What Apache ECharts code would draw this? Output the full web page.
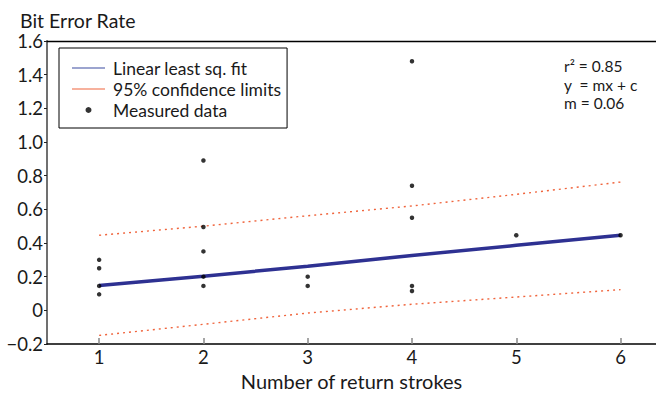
<!DOCTYPE html>
<html>
<head>
<meta charset="utf-8">
<script src="https://cdn.jsdelivr.net/npm/echarts@6/dist/echarts.min.js"></script>
<style>
html,body{margin:0;padding:0;background:#fff;}
#chart{width:656px;height:397px;}
</style>
</head>
<body>
<div id="chart"></div>
<script>
// ---- data ----
var xTicks = [1, 2, 3, 4, 5, 6];

var fitX = [1, 2, 3, 4, 5, 6];
var fitY = [0.147, 0.203, 0.262, 0.326, 0.386, 0.446];

var upperX = [1, 2, 3, 4, 5, 6];
var upperY = [0.446, 0.500, 0.562, 0.620, 0.689, 0.762];

var lowerX = [1, 2, 3, 4, 5, 6];
var lowerY = [-0.149, -0.083, -0.016, 0.036, 0.079, 0.123];

var measuredX = [1, 1, 1, 1, 2, 2, 2, 2, 2, 3, 3, 4, 4, 4, 4, 4, 5, 6];
var measuredY = [0.30, 0.25, 0.145, 0.095, 0.89, 0.495, 0.35, 0.20, 0.145, 0.20, 0.145, 1.48, 0.74, 0.55, 0.145, 0.115, 0.446, 0.446];

var statLines = ['r\u00b2 = 0.85', 'y  = mx + c', 'm = 0.06'];

function zip(xs, ys) { return xs.map(function (x, i) { return [x, ys[i]]; }); }

var FONT = 'Lato';
var TXT = '#1a1a1a';
var LINE_ICON = 'path://M0,0L66,0L66,2L0,2Z';

var chart = echarts.init(document.getElementById('chart'), null, { renderer: 'svg' });

chart.setOption({
  backgroundColor: '#ffffff',
  animation: false,
  textStyle: { fontFamily: FONT, color: TXT },
  title: {
    text: 'Bit Error Rate',
    left: 15, top: 5,
    textStyle: { fontFamily: FONT, fontSize: 19.5, fontWeight: 'normal', color: TXT }
  },
  grid: { left: 47, right: 0, top: 41, bottom: 53, outerBoundsMode: 'none' },
  legend: {
    orient: 'vertical',
    left: 59, top: 48,
    padding: [11, 6, 9, 13],
    borderColor: '#000', borderWidth: 1,
    itemWidth: 33, itemHeight: 6, itemGap: 3,
    symbolKeepAspect: true,
    textStyle: { fontFamily: FONT, fontSize: 17.5, color: TXT, padding: [0, 0, 0, 3] },
    data: [
      { name: 'Linear least sq. fit', icon: LINE_ICON, itemStyle: { color: '#3b4aa0', borderWidth: 0 } },
      { name: '95% confidence limits', icon: LINE_ICON, itemStyle: { color: '#f0643c', borderWidth: 0 } },
      { name: 'Measured data', icon: 'circle', itemStyle: { color: '#000' } }
    ]
  },
  xAxis: [{
    type: 'value', min: 0.5, max: 6.34,
    position: 'bottom',
    name: 'Number of return strokes',
    nameLocation: 'middle', nameGap: 27,
    nameTextStyle: { fontFamily: FONT, fontSize: 20, color: TXT },
    axisLine: { show: true, onZero: false, lineStyle: { color: '#000', width: 1.5 } },
    axisTick: { show: true, inside: true, length: 6, customValues: xTicks, lineStyle: { color: '#888', width: 1.5 } },
    axisLabel: { show: true, margin: 3, customValues: xTicks, fontFamily: FONT, fontSize: 18.5, color: TXT },
    splitLine: { show: false }
  }, {
    type: 'value', min: 0.5, max: 6.34,
    position: 'top',
    axisLine: { show: true, onZero: false, lineStyle: { color: '#000', width: 1.3 } },
    axisTick: { show: false }, axisLabel: { show: false }, splitLine: { show: false }
  }],
  yAxis: {
    type: 'value', min: -0.2, max: 1.6, interval: 0.2,
    axisLine: { show: true, onZero: false, lineStyle: { color: '#707070', width: 2 } },
    axisTick: { show: true, inside: false, length: 3, lineStyle: { color: '#222', width: 1 } },
    axisLabel: {
      margin: 4, fontFamily: FONT, fontSize: 18.5, color: TXT,
      formatter: function (v) {
        var r = Math.round(v * 10) / 10;
        if (r === 0) return '0';
        return (r < 0 ? '\u2212' : '') + Math.abs(r).toFixed(1);
      }
    },
    splitLine: { show: false }
  },
  graphic: statLines.map(function (t, i) {
    return {
      type: 'text', left: 564, top: 58 + i * 18.5,
      style: { text: t, font: '15.5px Lato', fill: TXT }
    };
  }),
  series: [{
    name: 'Linear least sq. fit', type: 'line', data: zip(fitX, fitY),
    symbol: 'none', z: 3,
    lineStyle: { color: '#2e3192', width: 3.5 }, itemStyle: { color: '#2e3192' }
  }, {
    name: '95% confidence limits', type: 'line', data: zip(upperX, upperY),
    symbol: 'none', z: 2,
    lineStyle: { color: '#f0643c', width: 1.4, type: [2, 4] }, itemStyle: { color: '#f0643c' }
  }, {
    name: '95% confidence limits', type: 'line', data: zip(lowerX, lowerY),
    symbol: 'none', z: 2,
    lineStyle: { color: '#f0643c', width: 1.4, type: [2, 4] }, itemStyle: { color: '#f0643c' }
  }, {
    name: 'Measured data', type: 'scatter', data: zip(measuredX, measuredY),
    symbol: 'circle', symbolSize: 4.5, z: 5,
    itemStyle: { color: '#000' }
  }]
});
</script>
</body>
</html>
